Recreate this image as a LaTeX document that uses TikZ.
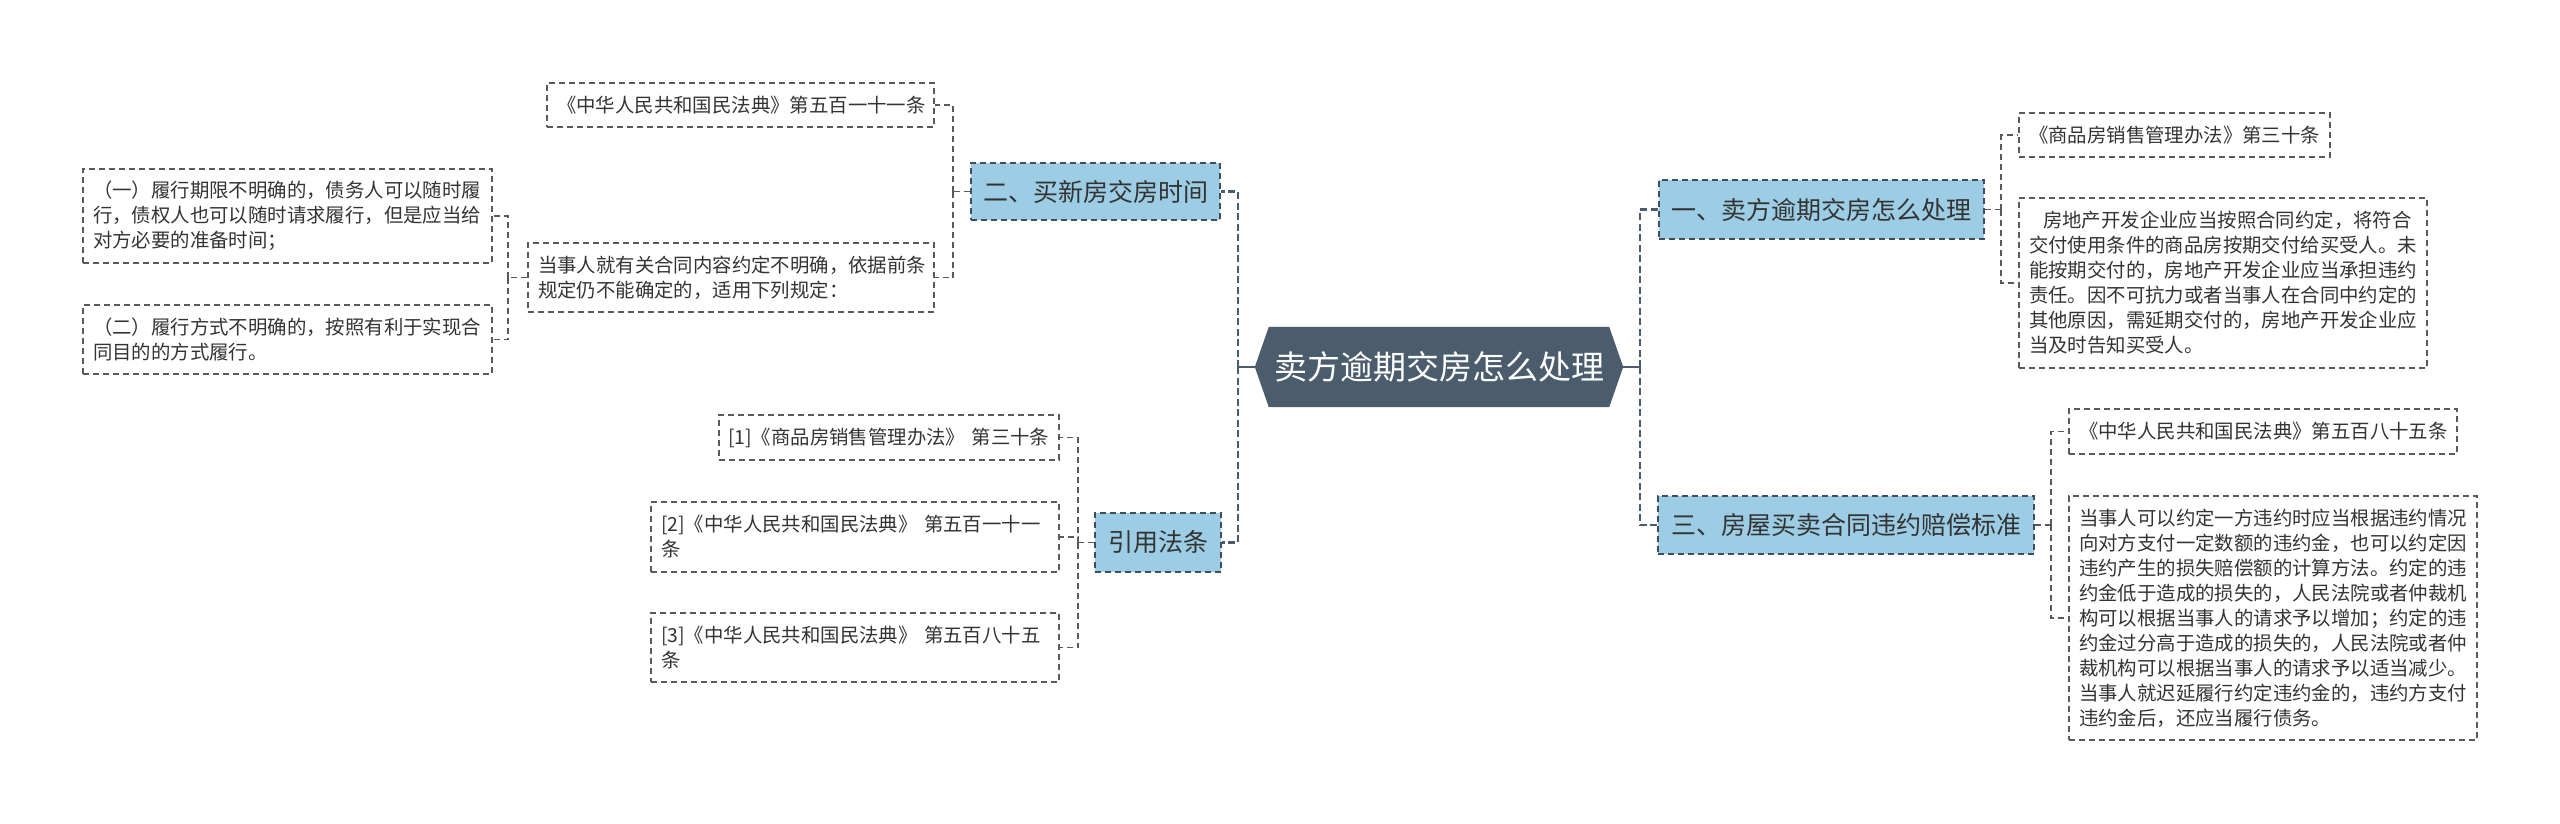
\documentclass[tikz,border=0pt]{standalone}
\usepackage{fontspec}
\newfontfamily\cjk{Noto Sans CJK SC}
\usetikzlibrary{backgrounds}
\definecolor{rootc}{HTML}{4B5C6C}
\definecolor{mainfill}{HTML}{9CCDE4}
\definecolor{mainedge}{HTML}{3E4E5E}
\definecolor{leafedge}{HTML}{595959}
\definecolor{txt}{HTML}{333333}
\definecolor{busc}{HTML}{4B5C6C}
\tikzset{
  rootbox/.style={minimum width=368pt, minimum height=80pt, inner sep=0pt, text=white, font=\cjk\fontsize{33}{40}\selectfont},
  mainbox/.style={draw=mainedge, fill=mainfill, dash pattern=on 6pt off 4pt, line width=1.6pt, font=\cjk\fontsize{25}{30}\selectfont, text=txt, inner sep=0pt},
  leaf/.style={draw=leafedge, dash pattern=on 6pt off 4pt, line width=1.4pt, font=\cjk\fontsize{19.4}{25}\selectfont, text=txt, align=left, inner xsep=10pt, inner ysep=0pt},
  bus/.style={draw=busc, line width=2.6pt, dash pattern=on 7pt off 3.5pt},
  rootlink/.style={draw=busc, line width=2.6pt},
  leafline/.style={draw=leafedge, line width=1.4pt, dash pattern=on 6pt off 4pt}
}
\begin{document}
\begin{tikzpicture}[x=1pt,y=-1pt]
\useasboundingbox (0,0) rectangle (2560,823);
% root
\node[rootbox] (root) at (1439,367) {卖方逾期交房怎么处理};
\begin{scope}[on background layer]
\fill[rootc] (root.west) -- ([xshift=14pt]root.north west) -- ([xshift=-14pt]root.north east) -- (root.east) -- ([xshift=-14pt]root.south east) -- ([xshift=14pt]root.south west) -- cycle;
\end{scope}
% main nodes
\node[mainbox, minimum width=249pt, minimum height=57pt] (n2) at (1095.5,191.5) {二、买新房交房时间};
\node[mainbox, minimum width=126pt, minimum height=59pt] (n4) at (1158,542.5) {引用法条};
\node[mainbox, minimum width=325pt, minimum height=59pt] (n1) at (1821.5,209.5) {一、卖方逾期交房怎么处理};
\node[mainbox, minimum width=376pt, minimum height=58pt] (n3) at (1846,525) {三、房屋买卖合同违约赔偿标准};
% left leaves
\node[leaf, text width=367pt, minimum height=44pt] (l511) at (740.5,105) {《中华人民共和国民法典》第五百一十一条};
\node[leaf, text width=386pt, minimum height=69pt] (ldang) at (731,277.5) {当事人就有关合同内容约定不明确，依据前条\\规定仍不能确定的，适用下列规定：};
\node[leaf, text width=389pt, minimum height=94pt] (lone) at (287.5,216) {（一）履行期限不明确的，债务人可以随时履\\行，债权人也可以随时请求履行，但是应当给\\对方必要的准备时间；};
\node[leaf, text width=389pt, minimum height=69pt] (ltwo) at (287.5,339.5) {（二）履行方式不明确的，按照有利于实现合\\同目的的方式履行。};
\node[leaf, inner xsep=9pt, text width=322pt, minimum height=45pt] (r1) at (889,437.5) {[1]《商品房销售管理办法》~第三十条};
\node[leaf, text width=388pt, minimum height=70pt] (r2) at (855,537) {[2]《中华人民共和国民法典》~第五百一十一\\条};
\node[leaf, text width=388pt, minimum height=69pt] (r3) at (855,647.5) {[3]《中华人民共和国民法典》~第五百八十五\\条};
% right leaves
\node[leaf, text width=291pt, minimum height=44pt] (s1) at (2174.5,135) {《商品房销售管理办法》第三十条};
\node[leaf, text width=388pt, minimum height=170pt] (s2) at (2223,283) {\hspace*{14pt}房地产开发企业应当按照合同约定，将符合\\交付使用条件的商品房按期交付给买受人。未\\能按期交付的，房地产开发企业应当承担违约\\责任。因不可抗力或者当事人在合同中约定的\\其他原因，需延期交付的，房地产开发企业应\\当及时告知买受人。};
\node[leaf, text width=368pt, minimum height=45pt] (t1) at (2263,431.5) {《中华人民共和国民法典》第五百八十五条};
\node[leaf, text width=388pt, minimum height=244pt] (t2) at (2273,618) {当事人可以约定一方违约时应当根据违约情况\\向对方支付一定数额的违约金，也可以约定因\\违约产生的损失赔偿额的计算方法。约定的违\\约金低于造成的损失的，人民法院或者仲裁机\\构可以根据当事人的请求予以增加；约定的违\\约金过分高于造成的损失的，人民法院或者仲\\裁机构可以根据当事人的请求予以适当减少。\\当事人就迟延履行约定违约金的，违约方支付\\违约金后，还应当履行债务。};
% root buses
\coordinate (bL) at (1238,367);
\coordinate (bR) at (1640,367);
\draw[rootlink] (root.west) -- (bL);
\draw[rootlink] (root.east) -- (bR);
\draw[bus] (bL) |- (n2.east);
\draw[bus] (bL) |- (n4.east);
\draw[bus] (bR) |- (n1.west);
\draw[bus] (bR) |- (n3.west);
% leaf connectors
\coordinate (c2) at (953,191.5);
\draw[leafline] (n2.west) -- (c2);
\draw[leafline] (c2) |- (l511.east);
\draw[leafline] (c2) |- (ldang.east);
\coordinate (cd) at (508,277.5);
\draw[leafline] (ldang.west) -- (cd);
\draw[leafline] (cd) |- (lone.east);
\draw[leafline] (cd) |- (ltwo.east);
\coordinate (c4) at (1078,542.5);
\draw[leafline] (n4.west) -- (c4);
\draw[leafline] (c4) |- (r1.east);
\draw[leafline] (c4) |- (r2.east);
\draw[leafline] (c4) |- (r3.east);
\coordinate (c1) at (2001,209.5);
\draw[leafline] (n1.east) -- (c1);
\draw[leafline] (c1) |- (s1.west);
\draw[leafline] (c1) |- (s2.west);
\coordinate (c3) at (2051,525);
\draw[leafline] (n3.east) -- (c3);
\draw[leafline] (c3) |- (t1.west);
\draw[leafline] (c3) |- (t2.west);
\end{tikzpicture}
\end{document}
